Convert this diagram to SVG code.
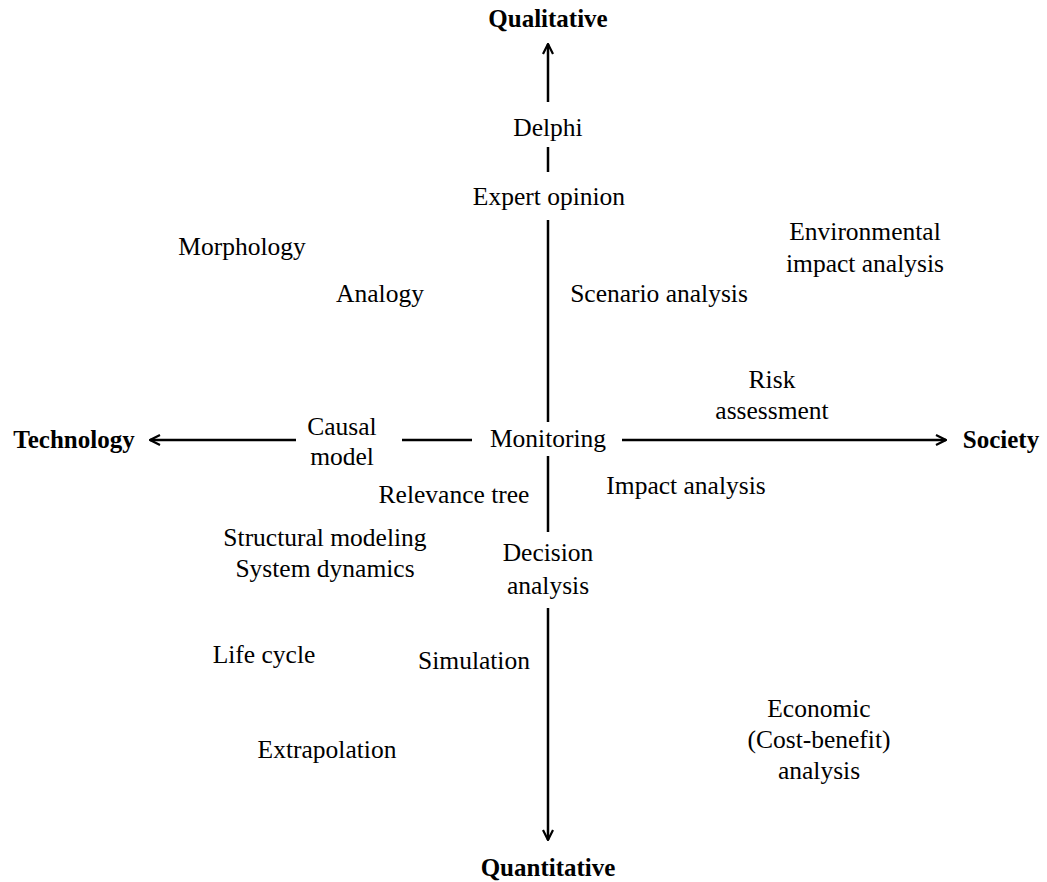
<svg xmlns="http://www.w3.org/2000/svg" width="1047" height="882" viewBox="0 0 1047 882">
<style>
text{font-family:"Liberation Serif","Times New Roman",serif;font-size:25.5px;fill:#000;text-anchor:middle}
.b{font-weight:bold;font-size:25px}
.ax{stroke:#000;stroke-width:2.5;fill:none}
</style>
<defs>
<marker id="ah" viewBox="0 0 12 12" refX="11" refY="6" markerWidth="12" markerHeight="12" markerUnits="userSpaceOnUse" orient="auto">
<polyline points="1,1 11,6 1,11" fill="none" stroke="#000" stroke-width="2.2"/>
</marker>
</defs>
<rect width="1047" height="882" fill="#fff"/>
<g id="connectors">
<line class="ax" x1="548" y1="102" x2="548" y2="44" marker-end="url(#ah)"/>
<line class="ax" x1="548" y1="147" x2="548" y2="172"/>
<line class="ax" x1="548" y1="220" x2="548" y2="422"/>
<line class="ax" x1="548" y1="456" x2="548" y2="532"/>
<line class="ax" x1="548" y1="608" x2="548" y2="840" marker-end="url(#ah)"/>
<line class="ax" x1="296" y1="440" x2="150" y2="440" marker-end="url(#ah)"/>
<line class="ax" x1="402" y1="440" x2="472" y2="440"/>
<line class="ax" x1="622" y1="440" x2="946" y2="440" marker-end="url(#ah)"/>
</g>
<g id="qualitative"><text class="b" x="548" y="27">Qualitative</text></g>
<g id="quantitative"><text class="b" x="548" y="876">Quantitative</text></g>
<g id="technology"><text class="b" x="74" y="448">Technology</text></g>
<g id="society"><text class="b" x="1001" y="448">Society</text></g>
<g id="delphi"><text x="548" y="136">Delphi</text></g>
<g id="expert-opinion"><text x="549" y="205">Expert opinion</text></g>
<g id="morphology"><text x="242" y="255">Morphology</text></g>
<g id="analogy"><text x="380" y="302">Analogy</text></g>
<g id="scenario-analysis"><text x="659" y="302">Scenario analysis</text></g>
<g id="environmental"><text x="865" y="240">Environmental</text><text x="865" y="272">impact analysis</text></g>
<g id="risk"><text x="772" y="388">Risk</text><text x="772" y="419">assessment</text></g>
<g id="causal"><text x="342" y="435">Causal</text><text x="342" y="465">model</text></g>
<g id="monitoring"><text x="548" y="447">Monitoring</text></g>
<g id="relevance-tree"><text x="454" y="503">Relevance tree</text></g>
<g id="impact-analysis"><text x="686" y="494">Impact analysis</text></g>
<g id="structural"><text x="325" y="546">Structural modeling</text><text x="325" y="577">System dynamics</text></g>
<g id="decision"><text x="548" y="561">Decision</text><text x="548" y="594">analysis</text></g>
<g id="life-cycle"><text x="264" y="663">Life cycle</text></g>
<g id="simulation"><text x="474" y="669">Simulation</text></g>
<g id="economic"><text x="819" y="717">Economic</text><text x="819" y="748">(Cost-benefit)</text><text x="819" y="779">analysis</text></g>
<g id="extrapolation"><text x="327" y="758">Extrapolation</text></g>
</svg>
